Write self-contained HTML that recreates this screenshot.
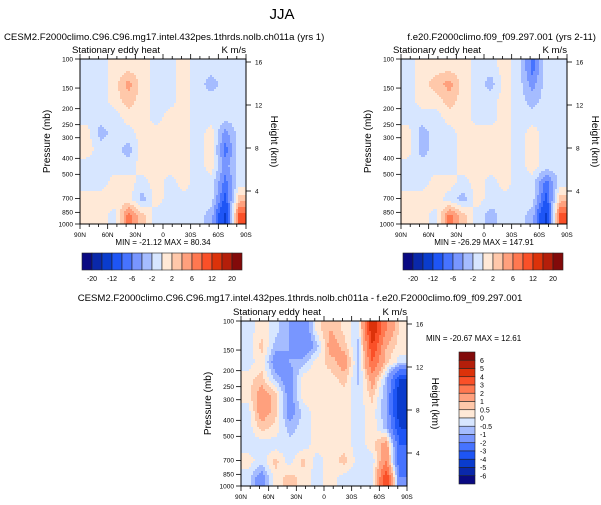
<!DOCTYPE html>
<html><head><meta charset="utf-8"><style>
html,body{margin:0;padding:0;background:#fff;}
svg{display:block;font-family:"Liberation Sans",sans-serif;}
</style></head><body>
<svg id="fig" width="601" height="505" viewBox="0 0 601 505">
<text x="282" y="19" font-size="15" text-anchor="middle">JJA</text>
<text x="4" y="40" font-size="9.6">CESM2.F2000climo.C96.C96.mg17.intel.432pes.1thrds.nolb.ch011a (yrs 1)</text>
<text x="596" y="40" font-size="9.6" text-anchor="end">f.e20.F2000climo.f09_f09.297.001 (yrs 2-11)</text>
<text x="300" y="301" font-size="9.6" text-anchor="middle">CESM2.F2000climo.C96.C96.mg17.intel.432pes.1thrds.nolb.ch011a - f.e20.F2000climo.f09_f09.297.001</text>
</svg>
<script>
// ---- data ----
const latLabels = ["90N","60N","30N","0","30S","60S","90S"];
const pLevels = [100,150,200,250,300,400,500,700,850,1000];
const hLevels = [16,12,8,4];
const absBounds = [-20,-16,-12,-8,-6,-4,-2,0,2,4,6,8,12,16,20];
const absLabels = ["-20","-12","-6","-2","2","6","12","20"];
const diffBounds = [-6,-5,-4,-3,-2,-1,-0.5,0,0.5,1,2,3,4,5,6];
const diffLabels = ["6","5","4","3","2","1","0.5","0","-0.5","-1","-2","-3","-4","-5","-6"];
const palette = ["#0a0a82","#0a28aa","#0a3ccd","#1e55f5","#4673ff","#7896ff","#a5bcff","#d7e6ff","#ffe9d7","#ffc8aa","#ffa07d","#ff7850","#fa5028","#dc320a","#b41e0a","#820a0a"];
// fields: rows = top (100mb) to bottom (1000mb), cols = 90N -> 90S
const fieldCtl = [
 [-1,-1,1,1,1,-1,-1,1,-1,-1,-1,-1],
 [-1,-1,1,5,1,-1,-1,1,-1,-3,-1,-1],
 [-1,-1,1,3,1,-1,-1,1,-1,-1,-1,-1],
 [-1,-1,-1,1,1,-1,1,1,-1,-1,-1,-1],
 [1,-3,-1,-1,1,1,1,1,-1,1,-5,-1],
 [1,-1,-1,-3,1,1,1,1,-1,1,-7,-1],
 [-1,-1,-1,-1,1,1,1,1,-1,1,-5,-1],
 [-1,-1,1,1,-1,1,-1,1,-1,-1,-7,-1],
 [1,1,1,1,-3,1,-1,-1,-1,-1,-9,3],
 [1,1,-1,7,3,-1,-1,-1,-1,-3,-13,9]
];
const fieldObs = [
 [-1,1,1,1,1,-1,-1,1,-1,-7,-1,-1],
 [-1,1,3,5,1,-1,-3,1,-1,-5,-1,-1],
 [-1,1,1,3,1,-1,-1,1,-1,-3,-1,-1],
 [-1,-1,-1,1,1,-1,-1,1,-1,-1,-1,-1],
 [1,-3,-1,-1,1,1,1,1,-1,1,-1,-1],
 [1,-3,-1,-1,1,1,1,1,-1,1,-1,-1],
 [-1,-1,-1,-1,1,1,1,1,-1,1,-1,-1],
 [-1,-1,1,1,-1,1,-1,1,-1,-1,-7,-1],
 [1,1,1,-1,-3,1,-1,-1,-1,-1,-9,3],
 [1,1,-1,7,3,-1,-3,-1,-1,-3,-13,9]
];
const fieldDiff = [
 [-0.3,0.3,-0.3,-1,-2,0.3,1,0.3,-0.3,5,2,0.3],
 [-0.3,0.7,-0.7,-1,-2,-0.7,1.5,0.7,-0.7,4,1,0.3],
 [-0.3,0.3,-1.5,-1,-0.7,0.3,0.7,1.5,-0.7,3,0.7,-0.3],
 [0.3,0.7,-0.7,-1.5,0.3,0.3,0.3,0.7,-0.7,1.5,-0.7,-4],
 [0.3,1.5,0.7,-1.5,0.3,0.3,0.3,0.3,-0.3,0.7,-1,-5],
 [-0.3,1.5,0.7,-1.5,-0.3,0.3,0.3,0.3,-0.3,0.3,-1,-5],
 [-0.3,0.7,0.3,-0.7,-0.3,0.3,0.3,0.3,-0.3,0.3,-0.7,-4],
 [-0.3,-0.3,-0.3,-0.3,-0.3,0.3,0.3,0.3,-0.3,0.3,1.5,-3],
 [0.3,-0.3,0.7,-0.3,0.7,-0.3,0.3,0.7,-0.3,-0.3,2,-3],
 [-0.3,-1.5,0.3,0.7,0.3,-0.3,0.3,-0.3,-0.3,-0.3,4,-2]
];
// ---- drawing ----
const NS = "http://www.w3.org/2000/svg";
const svg = document.getElementById("fig");
function mk(tag, attrs, parent){const e=document.createElementNS(NS,tag);for(const k in attrs)e.setAttribute(k,attrs[k]);(parent||svg).appendChild(e);return e;}
function colorFor(v,b){let i=0;while(i<b.length&&v>=b[i])i++;return palette[i];}
function sample(field,fx,fy){ // fx,fy in [0,1]; bilinear between cell centres
  const nr=field.length,nc=field[0].length;
  let cx=fx*nc-0.5, cy=fy*nr-0.5;
  cx=Math.max(0,Math.min(nc-1,cx)); cy=Math.max(0,Math.min(nr-1,cy));
  const c0=Math.floor(cx),r0=Math.floor(cy),c1=Math.min(nc-1,c0+1),r1=Math.min(nr-1,r0+1);
  const tx=cx-c0,ty=cy-r0;
  const a=field[r0][c0]*(1-tx)+field[r0][c1]*tx, b=field[r1][c0]*(1-tx)+field[r1][c1]*tx;
  return a*(1-ty)+b*ty;
}
function drawPanel(id,L,T,W,H,field,bounds,minmax,mmPos){
  const g=mk("g",{});
  
  
  const yP=p=>T+H*(Math.log10(p)-2);
  const yH=z=>T+3+(16-z)*(H-36)/12;
  const xL=i=>L+i*W/6;
  const fg=mk("g",{"shape-rendering":"crispEdges"},g);
  const step=2;
  for(let y=0;y<H;y+=step){
    // run-length merge per row
    let runStart=0,runCol=null;
    for(let x=0;x<=W;x+=step){
      const col = x<W ? colorFor(sample(field,(x+step/2)/W,(y+step/2)/H),bounds) : null;
      if(col!==runCol){
        if(runCol!==null){
          const rc=mk("rect",{x:L+runStart,y:T+y,width:Math.min(x,W)-runStart,height:Math.min(step,H-y),fill:runCol},fg);
          
          
        }
        runStart=x;runCol=col;
      }
    }
  }
  mk("rect",{x:L,y:T,width:W,height:H,fill:"none",stroke:"#000","stroke-width":1},g);
  for(let i=0;i<=18;i++){const x=L+i*W/18,len=(i%3==0)?5:3;
    mk("line",{x1:x,y1:T+H,x2:x,y2:T+H+len,stroke:"#000","stroke-width":0.8},g);
    mk("line",{x1:x,y1:T,x2:x,y2:T-len,stroke:"#000","stroke-width":0.8},g);}
  latLabels.forEach((s,i)=>{const t=mk("text",{x:xL(i),y:T+H+13,"font-size":6.5,"text-anchor":"middle"},g);t.textContent=s;
    
    });
  pLevels.forEach(p=>{const y=yP(p);mk("line",{x1:L-5,y1:y,x2:L,y2:y,stroke:"#000","stroke-width":0.8},g);
    const t=mk("text",{x:L-7,y:y+2.3,"font-size":6.5,"text-anchor":"end"},g);t.textContent=p;
    
    });
  hLevels.forEach(z=>{const y=yH(z);mk("line",{x1:L+W,y1:y,x2:L+W+5,y2:y,stroke:"#000","stroke-width":0.8},g);
    const t=mk("text",{x:L+W+9,y:y+2.3,"font-size":6.5},g);t.textContent=z;
    
    });
  let t=mk("text",{x:L-8,y:T-6,"font-size":9.6},g);t.textContent="Stationary eddy heat";
  
  
  t=mk("text",{x:L+W,y:T-6,"font-size":9.6,"text-anchor":"end"},g);t.textContent="K m/s";
  
  
  t=mk("text",{x:0,y:0,"font-size":10,"text-anchor":"middle",transform:`translate(${L-30},${T+H/2}) rotate(-90)`},g);t.textContent="Pressure (mb)";
  
  
  t=mk("text",{x:0,y:0,"font-size":10,"text-anchor":"middle",transform:`translate(${L+W+25},${T+H/2}) rotate(90)`},g);t.textContent="Height (km)";
  
  
  t=mk("text",{x:mmPos[0],y:mmPos[1],"font-size":8,"text-anchor":mmPos[2]},g);t.textContent=minmax;
  
  
}
function hColorbar(id,L,T,W,H){
  const g=mk("g",{});
  
  
  const bw=W/16;
  palette.forEach((c,i)=>{const r=mk("rect",{x:L+i*bw,y:T,width:bw,height:H,fill:c,stroke:"#222","stroke-width":0.6},g);
    
    });
  absLabels.forEach((s,i)=>{const t=mk("text",{x:L+(1+2*i)*bw,y:T+H+11,"font-size":7,"text-anchor":"middle"},g);t.textContent=s;
    
    });
}
function vColorbar(id,L,T,W,H){
  const g=mk("g",{});
  
  
  const bh=H/16;
  palette.slice().reverse().forEach((c,i)=>{const r=mk("rect",{x:L,y:T+i*bh,width:W,height:bh,fill:c,stroke:"#222","stroke-width":0.6},g);
    
    });
  diffLabels.forEach((s,i)=>{const t=mk("text",{x:L+W+5,y:T+(i+1)*bh+2.5,"font-size":7},g);t.textContent=s;
    
    });
}
drawPanel("control",80,59,166,165,fieldCtl,absBounds,"MIN = -21.12  MAX =  80.34",[163,245,"middle"]);
drawPanel("obs",401,59,166,165,fieldObs,absBounds,"MIN = -26.29  MAX = 147.91",[484,245,"middle"]);
drawPanel("diff",241,321,166,165,fieldDiff,diffBounds,"MIN = -20.67  MAX =  12.61",[426,341,"start"]);
hColorbar("left-colorbar",82,253,160,17);
hColorbar("right-colorbar",403,253,160,17);
vColorbar("diff-colorbar",459,352,16,132);
</script>
</body></html>
